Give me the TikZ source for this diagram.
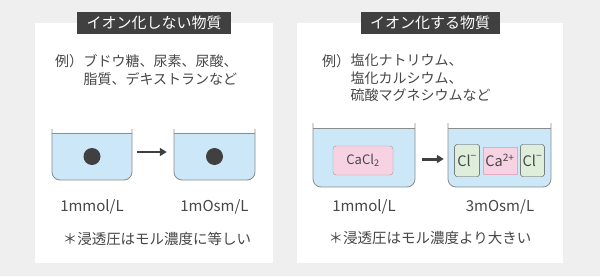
\documentclass[tikz,border=0pt]{standalone}
\usepackage{fontspec}
\setmainfont{Noto Sans CJK JP}
\usepackage{xcolor}
\usepackage{tikz}
\usetikzlibrary{positioning,arrows.meta,fit}
\definecolor{ground}{HTML}{EFEFEF}
\definecolor{ink}{HTML}{474747}
\definecolor{tag}{HTML}{404040}
\definecolor{wallgray}{HTML}{8C8C8C}
\definecolor{liquid}{HTML}{CCE8F8}
\definecolor{rose}{HTML}{F7D2E3}
\definecolor{roseline}{HTML}{E3A9C5}
\definecolor{mint}{HTML}{DFEDDB}
\tikzset{
  panel/.style={fill=white,inner sep=0pt},
  titlebox/.style={fill=tag,text=white,font=\fontsize{15}{18}\selectfont,inner xsep=9.5pt,inner ysep=4pt},
  extext/.style={text=ink,font=\fontsize{14}{18}\selectfont,inner sep=0pt,anchor=north west},
  conc/.style={text=ink,font=\fontsize{15}{18}\selectfont},
  note/.style={text=ink,font=\fontsize{14.5}{18}\selectfont},
  water/.style={fill=liquid},
  wall/.style={draw=wallgray,line width=0.8pt},
  solute/.style={circle,fill=tag,minimum size=17pt,inner sep=0pt},
  salt/.style={fill=rose,draw=gray!80,rounded corners=3pt,minimum width=60pt,minimum height=29pt,text=ink,font=\fontsize{13}{15}\selectfont,inner sep=0pt},
  anion/.style={fill=mint,draw=ink,rounded corners=2.5pt,minimum width=25pt,minimum height=32pt,text=ink,font=\fontsize{14.5}{16}\selectfont,inner sep=0pt},
  cation/.style={fill=rose,draw=roseline,minimum width=34pt,minimum height=27pt,text=ink,font=\fontsize{14.5}{16}\selectfont,inner sep=0pt},
  flow/.style={draw=tag,line width=2.6pt,-{Triangle[length=7pt,width=8pt]}},
}
% name, x left, x right, y top, y water, y bottom
\newcommand{\beaker}[6]{%
  \node[inner sep=0pt,fit={(#2,#4) (#3,#6)}] (#1) {};
  \fill[water] (#2,#5) [rounded corners=8pt] -- (#2,#6) -- (#3,#6) [sharp corners] -- (#3,#5) -- cycle;
  \draw[wall] (#2,#4) [rounded corners=8pt] -- (#2,#6) -- (#3,#6) -- (#3,#4);
  \draw[wall] (#2,#5) -- (#3,#5);
}
\newcommand{\minus}{\textsuperscript{\raisebox{0.25ex}{−}}}
\begin{document}
\begin{tikzpicture}[x=1pt,y=-1pt]
  \useasboundingbox[fill=ground] (0,0) rectangle (600,276);
  % panels and titles
  \node[panel,minimum width=238pt,minimum height=240pt] (lp) at (154,143) {};
  \node[panel,minimum width=266pt,minimum height=240pt] (rp) at (430,143) {};
  \node[titlebox] (lt) at (lp.north) {イオン化しない物質};
  \node[titlebox] (rt) at (rp.north) {イオン化する物質};

  % examples
  \node[extext] (lexa) at (55,54) {例）};
  \node[extext,align=left] (lexb) at (lexa.north east) {ブドウ糖、尿素、尿酸、\\脂質、デキストランなど};
  \node[extext] (rexa) at (322,54) {例）};
  \node[extext,align=left,font=\fontsize{14}{17.5}\selectfont] (rexb) at (rexa.north east)
    {塩化ナトリウム、\\塩化カルシウム、\\硫酸マグネシウムなど};

  % non-ionizing side
  \beaker{lb1}{52}{132}{129}{133.5}{180}
  \beaker{lb2}{174}{255}{129}{133.5}{180}
  \node[solute] (ld1) at ([yshift=-2pt]lb1.center) {};
  \node[solute] (ld2) at ([yshift=-2pt]lb2.center) {};
  \draw[flow] ([xshift=5pt,yshift=2.5pt]lb1.east) -- ([xshift=-7pt,yshift=2.5pt]lb2.west);

  % ionizing side
  \beaker{rb1}{313}{415}{123}{128}{187}
  \beaker{rb2}{448}{551}{123}{128}{187}
  \node[salt] (cacl) at (363,160.5) {CaCl\textsubscript{2}};
  \node[cation] (ca) at (500,160.5) {Ca\textsuperscript{2+}};
  \node[anion,left=3pt of ca] (cla) {Cl\minus};
  \node[anion,right=3pt of ca,minimum width=24pt] (clb) {Cl\minus};
  \draw[flow,line width=3pt] ([xshift=7pt,yshift=-4pt]rb1.east) -- ([xshift=-4pt,yshift=-4pt]rb2.west);

  % concentrations and notes
  \node[conc] (lc1) at (92,207) {1mmol/L};
  \node[conc] (lc2) at (214.5,207) {1mOsm/L};
  \node[conc] (rc1) at (364,207) {1mmol/L};
  \node[conc] (rc2) at (500,207) {3mOsm/L};
  \node[note] (ln) at (157,239) {＊浸透圧はモル濃度に等しい};
  \node[note] (rn) at (430,238) {＊浸透圧はモル濃度より大きい};
\end{tikzpicture}
\end{document}
